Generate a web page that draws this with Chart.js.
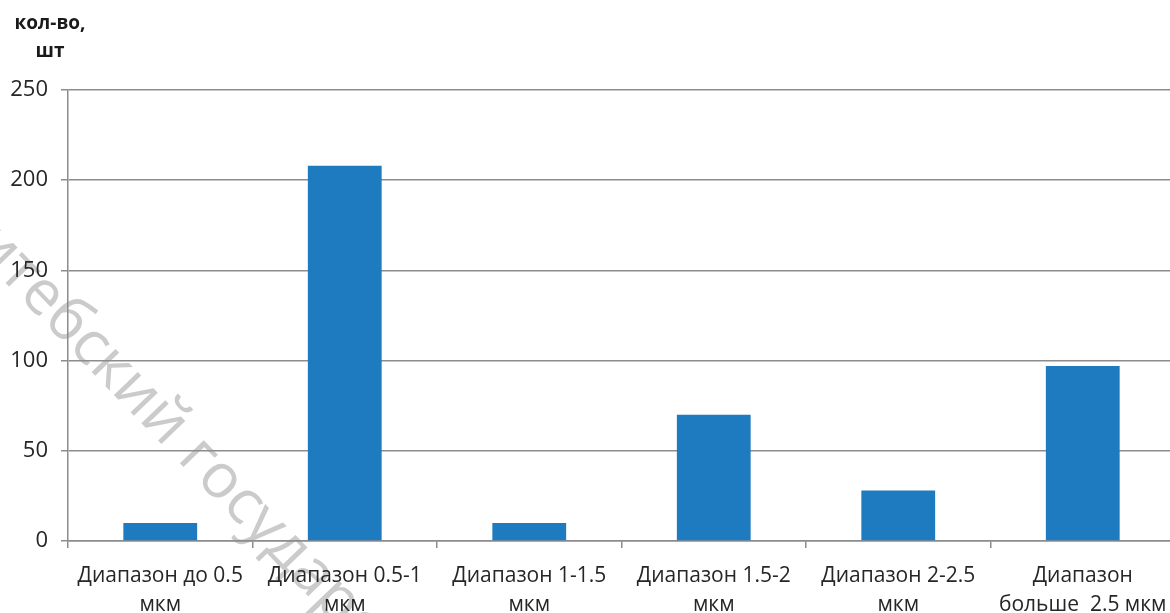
<!DOCTYPE html>
<html lang="ru">
<head>
    <meta charset="UTF-8">
    <title>Количество частиц по диапазонам</title>
    <script src="https://cdn.jsdelivr.net/npm/chart.js"></script>
    <style>
        body {
            margin: 0;
            background: #fff;
            overflow: hidden;
        }
    </style>
</head>
<body>
    <!-- plot area runs a little past the right edge of the window, as in the original -->
    <canvas id="barChart" width="1175" height="620"></canvas>

    <script>
        // Data
        const categories = [
            ['Диапазон до 0.5', 'мкм'],
            ['Диапазон 0.5-1', 'мкм'],
            ['Диапазон 1-1.5', 'мкм'],
            ['Диапазон 1.5-2', 'мкм'],
            ['Диапазон 2-2.5', 'мкм'],
            ['Диапазон', 'больше  2.5 мкм']
        ];
        const counts = [10, 208, 10, 70, 28, 97];
        const yTicks = [0, 50, 100, 150, 200, 250];
        const axisTitle = ['кол-во,', 'шт'];
        const watermark = 'Витебский государственный университет';

        const FONT = "'Open Sans', sans-serif";

        // faint diagonal watermark behind the chart
        const watermarkPlugin = {
            id: 'watermark',
            beforeDraw(chart) {
                const ctx = chart.ctx;
                ctx.save();
                ctx.font = "62px " + FONT;
                ctx.textAlign = 'left';
                ctx.textBaseline = 'middle';
                ctx.fillStyle = '#cbcbcb';
                // the visible part starts with "т", the first letters fall off the left edge
                const lead = ctx.measureText('Ви').width;
                ctx.translate(10, 262);
                ctx.rotate(46 * Math.PI / 180);
                ctx.fillText(watermark, -lead, 0);
                ctx.restore();
            }
        };

        // axis caption at top left
        const captionPlugin = {
            id: 'caption',
            afterDraw(chart) {
                const ctx = chart.ctx;
                ctx.save();
                ctx.fillStyle = '#1a1a1a';
                ctx.font = "bold 19px " + FONT;
                ctx.textAlign = 'center';
                ctx.textBaseline = 'middle';
                ctx.fillText(axisTitle[0], 50, 24);
                ctx.fillText(axisTitle[1], 50, 52);
                ctx.restore();
            }
        };

        new Chart(document.getElementById('barChart'), {
            type: 'bar',
            data: {
                labels: categories,
                datasets: [{
                    data: counts,
                    backgroundColor: '#1f7bbf',
                    barPercentage: 0.4,
                    categoryPercentage: 1.0
                }]
            },
            options: {
                responsive: false,
                animation: false,
                layout: { padding: { top: 90, right: 0, left: 0, bottom: 0 } },
                plugins: {
                    legend: { display: false },
                    tooltip: { enabled: false }
                },
                scales: {
                    x: {
                        offset: true,
                        grid: {
                            offset: true,
                            drawOnChartArea: false,
                            drawTicks: true,
                            tickLength: 7,
                            color: '#8c8c8c',
                            lineWidth: 1.5
                        },
                        border: { display: true, color: '#8c8c8c', width: 1.5 },
                        ticks: {
                            color: '#262626',
                            font: { family: FONT, size: 21, lineHeight: 1.38 },
                            padding: 14,
                            maxRotation: 0,
                            autoSkip: false
                        },
                        afterFit(scale) {
                            scale.height = 79;
                            scale.paddingLeft = 0;
                            scale.paddingRight = 0;
                        }
                    },
                    y: {
                        min: 0,
                        max: 250,
                        afterBuildTicks(scale) {
                            scale.ticks = yTicks.map(v => ({ value: v }));
                        },
                        grid: {
                            color: '#8c8c8c',
                            lineWidth: 1.5,
                            drawTicks: true,
                            tickLength: 7
                        },
                        border: { display: true, color: '#8c8c8c', width: 1.5 },
                        ticks: {
                            color: '#262626',
                            font: { family: FONT, size: 22 },
                            padding: 13
                        },
                        afterFit(scale) { scale.width = 68; }
                    }
                }
            },
            plugins: [watermarkPlugin, captionPlugin]
        });
    </script>
</body>
</html>
